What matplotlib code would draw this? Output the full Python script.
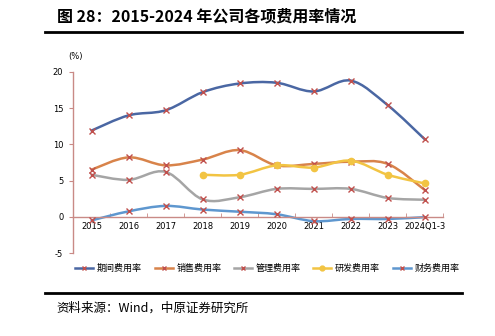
import numpy as np
import matplotlib.pyplot as plt
from matplotlib.path import Path
from matplotlib.patches import PathPatch
from matplotlib.lines import Line2D

plt.rcParams['font.family'] = ['Noto Sans CJK SC', 'DejaVu Sans']
plt.rcParams['axes.unicode_minus'] = False

years = ['2015', '2016', '2017', '2018', '2019', '2020', '2021', '2022', '2023', '2024Q1-3']
period_rate = [11.9, 14.0, 14.7, 17.2, 18.4, 18.5, 17.3, 18.8, 15.4, 10.7]
sales_rate = [6.5, 8.2, 7.1, 7.9, 9.2, 7.1, 7.3, 7.6, 7.3, 3.7]
admin_rate = [5.8, 5.1, 6.2, 2.4, 2.7, 3.85, 3.85, 3.85, 2.6, 2.35]
rd_rate = [np.nan, np.nan, np.nan, 5.8, 5.8, 7.1, 6.8, 7.75, 5.8, 4.6]
fin_rate = [-0.5, 0.75, 1.5, 1.0, 0.7, 0.35, -0.6, -0.3, -0.3, -0.05]

names = ['期间费用率', '销售费用率', '管理费用率', '研发费用率', '财务费用率']
colors = ['#4A67A3', '#D8834A', '#A5A5A5', '#F2C443', '#5E97CF']
series = [period_rate, sales_rate, admin_rate, rd_rate, fin_rate]

mark_red = '#C0504D'
axis_red = '#C98A86'


def smooth_path(xs, ys):
    # cubic bezier through the points, excel-style smoothing
    pts = np.column_stack([xs, ys])
    verts = [pts[0]]
    codes = [Path.MOVETO]
    n = len(pts)
    for i in range(n - 1):
        p0 = pts[i - 1] if i > 0 else pts[i]
        p1 = pts[i]
        p2 = pts[i + 1]
        p3 = pts[i + 2] if i + 2 < n else pts[i + 1]
        c1 = p1 + (p2 - p0) / 6.0
        c2 = p2 - (p3 - p1) / 6.0
        verts += [c1, c2, p2]
        codes += [Path.CURVE4] * 3
    return Path(verts, codes)


fig = plt.figure(figsize=(4.95, 3.36), dpi=100)
ax = fig.add_axes([0.1475, 0.247, 0.748, 0.539])

x = np.arange(len(years))
for name, vals, col in zip(names, series, colors):
    vals = np.array(vals, dtype=float)
    ok = ~np.isnan(vals)
    ax.add_patch(PathPatch(smooth_path(x[ok], vals[ok]), facecolor='none',
                           edgecolor=col, lw=1.8, capstyle='round', zorder=2))
    if name == '研发费用率':
        ax.plot(x[ok], vals[ok], ls='none', marker='o', ms=4.5, color=col,
                mec=col, zorder=3)
    else:
        ax.plot(x[ok], vals[ok], ls='none', marker='x', ms=5, mew=1.0,
                color=mark_red, zorder=3)

ax.set_xlim(-0.5, len(years) - 0.5)
ax.set_ylim(-5, 20)
ax.set_yticks([-5, 0, 5, 10, 15, 20])
ax.set_xticks(x)
ax.set_xticklabels(years)
ax.set_xticks(np.arange(-0.5, len(years), 1.0), minor=True)

for s in ['top', 'right']:
    ax.spines[s].set_visible(False)
ax.spines['bottom'].set_position(('data', 0))
ax.spines['left'].set_color(axis_red)
ax.spines['bottom'].set_color(axis_red)
ax.spines['left'].set_linewidth(1.0)
ax.spines['bottom'].set_linewidth(1.0)
ax.tick_params(axis='y', length=3, color=axis_red, labelsize=6, pad=4)
ax.tick_params(axis='x', which='major', length=0, labelsize=6, pad=4)
ax.tick_params(axis='x', which='minor', length=3, color=axis_red, direction='in')
for lab in ax.get_xticklabels() + ax.get_yticklabels():
    lab.set_fontfamily('DejaVu Sans')

fig.text(0.137, 0.832, '(%)', fontsize=6, family='DejaVu Sans', va='center')

handles = []
for name, col in zip(names, colors):
    if name == '研发费用率':
        handles.append(Line2D([], [], color=col, lw=1.8, marker='o', ms=3.5, mec=col))
    else:
        handles.append(Line2D([], [], color=col, lw=1.8, marker='x', ms=3.5,
                              mew=1, mec=mark_red))
fig.legend(handles, names, loc='center', bbox_to_anchor=(0.54, 0.2),
           ncol=5, frameon=False, fontsize=6.5, handlelength=2.0,
           handletextpad=0.4, columnspacing=1.4)

# header and footer
fig.text(0.115, 0.95, '图 28：2015-2024 年公司各项费用率情况', fontsize=11.5,
         fontweight='bold', va='center')
fig.add_artist(Line2D([0.091, 0.933], [0.905, 0.905], color='black', lw=2,
                      transform=fig.transFigure))
fig.add_artist(Line2D([0.091, 0.933], [0.128, 0.128], color='black', lw=2,
                      transform=fig.transFigure))
fig.text(0.113, 0.083, '资料来源：Wind，中原证券研究所', fontsize=9, va='center')

fig.savefig('out.png', dpi=100, facecolor='white')
